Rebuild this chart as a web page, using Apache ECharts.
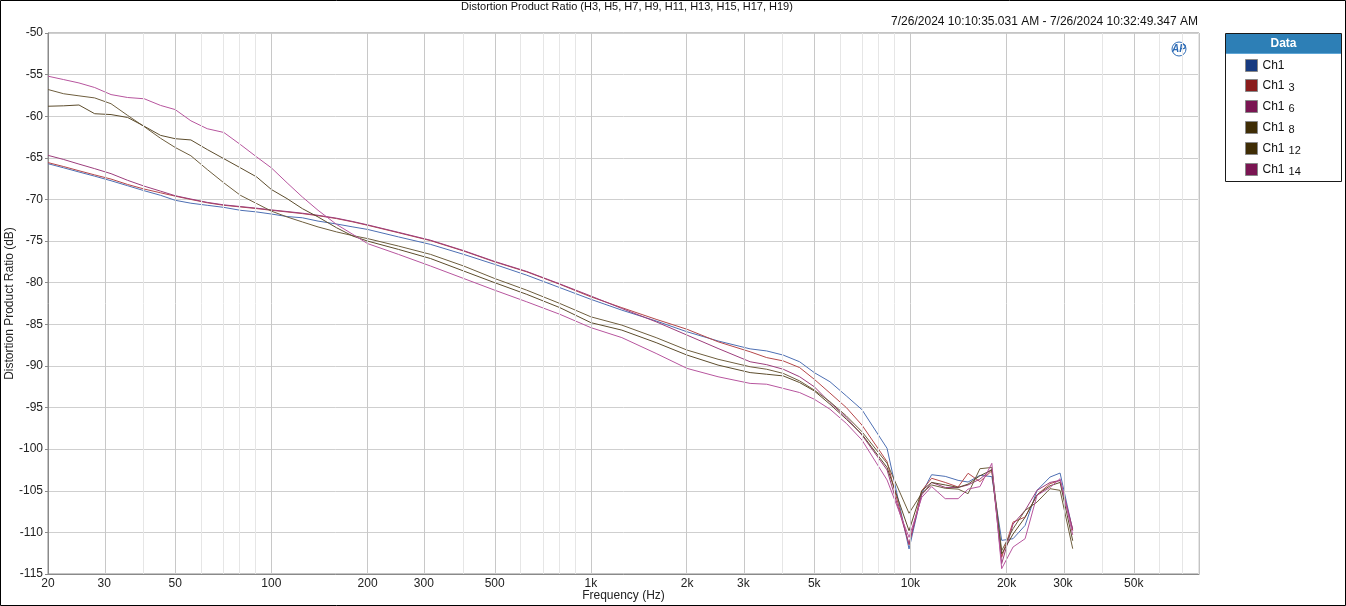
<!DOCTYPE html>
<html><head><meta charset="utf-8">
<script src="https://cdn.jsdelivr.net/npm/echarts@6/dist/echarts.min.js"></script>
<style>html,body{margin:0;padding:0;background:#fff;}#c{width:1346px;height:606px;}</style>
</head><body><div id="c"></div>
<script>
// ---- data ----
const freqHz = [20, 22.4, 25, 28, 31.5, 35.5, 40, 45, 50, 56, 63, 71, 80, 90, 100, 112, 125, 140, 160, 180,
  200, 250, 315, 400, 500, 630, 800, 1000, 1250, 1600, 2000, 2500, 3150, 3550, 4000, 4500, 5000, 5600, 6300,
  7050, 8450, 9900, 10850, 11650, 12850, 14100, 15150, 16500, 17980, 19300, 20950, 22850, 24900, 27350, 29400, 32200];

const ch1 = [-65.7, -66.2, -66.7, -67.2, -67.75, -68.35, -68.95, -69.5, -70.1, -70.45, -70.7, -70.95, -71.3, -71.5, -71.75, -72.05, -72.2, -72.6, -72.95, -73.3,
  -73.6, -74.5, -75.4, -76.6, -77.8, -79.1, -80.6, -82.0, -83.3, -84.6, -85.9, -87.0, -87.95, -88.2, -88.7, -89.5, -90.8, -91.9, -93.6,
  -95.25, -99.9, -112.0, -105.3, -103.07, -103.27, -103.75, -103.95, -103.15, -103.3, -110.96, -110.76, -109.16, -104.95, -103.35, -102.87, -109.76];

const ch1_3 = [-65.57, -66.05, -66.55, -67.05, -67.55, -68.2, -68.75, -69.2, -69.6, -70.0, -70.4, -70.7, -70.9, -71.1, -71.3, -71.5, -71.7, -71.95, -72.3, -72.7,
  -73.1, -74.0, -74.95, -76.2, -77.5, -78.7, -80.2, -81.7, -83.0, -84.4, -85.6, -87.1, -88.3, -89.0, -89.4, -90.2, -91.6, -93.26, -95.0,
  -97.1, -101.5, -111.5, -105.0, -103.5, -104.0, -104.55, -102.9, -103.9, -102.6, -113.0, -108.76, -108.16, -105.5, -104.15, -103.75, -109.76];

const ch1_6 = [-64.7, -65.2, -65.75, -66.3, -66.9, -67.7, -68.4, -69.0, -69.55, -69.95, -70.35, -70.65, -70.85, -71.05, -71.25, -71.45, -71.65, -71.9, -72.25, -72.65,
  -73.05, -73.95, -74.9, -76.15, -77.45, -78.65, -80.15, -81.6, -83.1, -84.7, -86.3, -87.9, -89.5, -89.85, -90.4, -91.3, -92.5, -94.4, -96.2,
  -98.3, -102.5, -111.4, -105.5, -104.0, -104.6, -104.6, -104.3, -103.6, -102.4, -113.76, -109.0, -107.36, -104.95, -104.0, -103.75, -109.6];

const ch1_8 = [-56.79, -57.3, -57.55, -57.8, -58.5, -59.9, -61.25, -62.65, -63.75, -64.75, -66.4, -68.0, -69.5, -70.5, -71.4, -72.1, -72.7, -73.3, -73.9, -74.35,
  -74.7, -75.6, -76.6, -78.0, -79.5, -80.9, -82.5, -84.1, -85.1, -86.6, -88.1, -89.2, -90.1, -90.4, -90.9, -91.8, -92.9, -94.3, -96.0,
  -97.9, -101.7, -107.7, -105.3, -104.3, -104.7, -104.8, -105.35, -102.35, -102.2, -112.2, -109.56, -107.36, -106.36, -104.75, -104.95, -111.96];

const ch1_12 = [-58.8, -58.75, -58.65, -59.7, -59.8, -60.15, -61.2, -62.3, -62.7, -62.85, -64.0, -65.1, -66.2, -67.3, -68.8, -69.9, -71.1, -72.1, -73.4, -74.4,
  -75.0, -76.0, -77.1, -78.6, -80.0, -81.4, -83.0, -84.8, -85.7, -87.2, -88.7, -89.9, -90.8, -91.0, -91.2, -92.0, -93.0, -94.6, -96.4,
  -98.2, -102.2, -109.8, -105.0, -104.0, -104.3, -104.6, -104.2, -103.2, -102.5, -112.6, -110.2, -108.2, -105.5, -104.4, -104.0, -111.0];

const ch1_14 = [-55.19, -55.6, -56.0, -56.55, -57.4, -57.75, -57.9, -58.7, -59.2, -60.55, -61.5, -61.95, -63.4, -64.9, -66.2, -68.0, -69.7, -71.3, -73.0, -74.2,
  -75.3, -76.6, -78.0, -79.5, -80.9, -82.3, -83.8, -85.4, -86.6, -88.5, -90.3, -91.3, -92.1, -92.2, -92.7, -93.2, -94.0, -95.2, -96.9,
  -98.9, -103.7, -110.6, -105.8, -104.5, -105.95, -105.95, -104.8, -104.5, -101.7, -114.36, -111.76, -110.76, -105.55, -104.6, -103.55, -110.3];

const seriesNames = ['Ch1', 'Ch1 3', 'Ch1 6', 'Ch1 8', 'Ch1 12', 'Ch1 14'];
const xTickValues = [20, 30, 50, 100, 200, 300, 500, 1000, 2000, 3000, 5000, 10000, 20000, 30000, 50000];
const xTickLabels = ['20', '30', '50', '100', '200', '300', '500', '1k', '2k', '3k', '5k', '10k', '20k', '30k', '50k'];
const titleText = 'Distortion Product Ratio (H3, H5, H7, H9, H11, H13, H15, H17, H19)';
const dateText = '7/26/2024 10:10:35.031 AM - 7/26/2024 10:32:49.347 AM';

// ---- chart ----
const values = [ch1, ch1_3, ch1_6, ch1_8, ch1_12, ch1_14];
const lineColors = ['#4d6fb3', '#b5474a', '#9c3d7c', '#6e5e3e', '#5c4c2c', '#b7559e'];
const legendColors = ['#173a80', '#8a1c1c', '#7a1552', '#3f2d05', '#3f2d05', '#7a1552'];
const xMin = Math.log10(20), xMax = Math.log10(80000);

const majorGrid = xTickValues.map(v => Math.log10(v));
const minorGrid = [];
for (let d = 10; d <= 10000; d *= 10) {
  for (let m = 1; m <= 9; m++) {
    const f = m * d;
    if (f < 20 || f > 80000) continue;
    if (xTickValues.indexOf(f) >= 0) continue;
    minorGrid.push(Math.log10(f));
  }
}

const labelMap = {};
xTickValues.forEach((v, i) => { labelMap[Math.log10(v).toFixed(4)] = xTickLabels[i]; });

const series = seriesNames.map((n, i) => ({
  name: n, type: 'line', symbol: 'none', showSymbol: false, animation: false, z: 3,
  data: freqHz.map((f, j) => [Math.log10(f), values[i][j]]),
  lineStyle: { width: 1, color: lineColors[i] },
  itemStyle: { color: legendColors[i] }
}));
series.unshift({
  name: '_grid', type: 'line', data: [], z: 1, silent: true, animation: false,
  markLine: {
    silent: true, symbol: 'none', animation: false, label: { show: false },
    data: minorGrid.map(v => ({ xAxis: v, lineStyle: { color: '#e6e6e6', width: 1, type: 'solid' } }))
      .concat(majorGrid.slice(1).map(v => ({ xAxis: v, lineStyle: { color: '#c8c8c8', width: 1, type: 'solid' } })))
  }
});

const chart = echarts.init(document.getElementById('c'), null, { renderer: 'canvas' });
const font = 'Liberation Sans, Arial, sans-serif';
chart.setOption({
  animation: false,
  textStyle: { fontFamily: font },
  grid: { left: 48, right: 147, top: 33, bottom: 32, containLabel: false, outerBoundsMode: 'none',
    show: true, borderColor: '#8a8a8a', borderWidth: 1, backgroundColor: 'transparent' },
  xAxis: {
    type: 'value', min: xMin, max: xMax,
    name: 'Frequency (Hz)', nameLocation: 'middle', nameGap: 16, nameMoveOverlap: false,
    nameTextStyle: { fontSize: 12, color: '#222', fontFamily: font },
    axisLine: { show: true, lineStyle: { color: '#8a8a8a' } },
    axisTick: { show: false },
    splitLine: { show: false },
    axisLabel: {
      customValues: majorGrid, fontSize: 12, color: '#222', margin: 4, fontFamily: font,
      formatter: v => labelMap[(+v).toFixed(4)] || ''
    }
  },
  yAxis: {
    type: 'value', min: -115, max: -50, interval: 5,
    name: 'Distortion Product Ratio (dB)', nameLocation: 'middle', nameGap: 32, nameMoveOverlap: false,
    nameTextStyle: { fontSize: 12, color: '#222', fontFamily: font },
    axisLine: { show: true, lineStyle: { color: '#8a8a8a' } },
    axisTick: { show: true, length: 3, lineStyle: { color: '#8a8a8a' } },
    splitLine: { show: true, lineStyle: { color: '#cfcfcf', width: 1 } },
    axisLabel: { fontSize: 12, color: '#222', margin: 5, fontFamily: font }
  },
  legend: {
    data: seriesNames, orient: 'vertical', left: 1245, top: 59, padding: 0,
    itemWidth: 12, itemHeight: 12, itemGap: 6, icon: 'rect', itemStyle: { borderColor: '#888', borderWidth: 1 },
    selectedMode: false,
    textStyle: {
      fontSize: 12, color: '#111', fontFamily: font,
      rich: { a: { fontSize: 12, color: '#111', lineHeight: 12 }, b: { fontSize: 11, color: '#111', lineHeight: 12, padding: [4, 0, 0, 4] } }
    },
    formatter: n => { const p = n.split(' '); return p.length > 1 ? '{a|' + p[0] + '}{b|' + p[1] + '}' : '{a|' + n + '}'; }
  },
  graphic: [
    { type: 'rect', shape: { x: 0.5, y: 0.5, width: 1345, height: 605 }, style: { fill: 'none', stroke: '#000', lineWidth: 1 }, silent: true },
    { type: 'text', x: 627, y: 7, style: { text: titleText, fontSize: 11, fill: '#111', align: 'center', verticalAlign: 'middle', fontFamily: font } },
    { type: 'text', x: 1198, y: 22, style: { text: dateText, fontSize: 12, fill: '#111', align: 'right', verticalAlign: 'middle', fontFamily: font } },
    { type: 'rect', shape: { x: 1225.5, y: 33.5, width: 116, height: 148 }, style: { fill: '#fff', stroke: '#1a1a1a', lineWidth: 1 }, z: -1 },
    { type: 'rect', shape: { x: 1226, y: 34, width: 115, height: 20 }, style: { fill: '#2d7fb6' } },
    { type: 'rect', shape: { x: 1226, y: 53, width: 115, height: 1 }, style: { fill: '#5fa6d6' } },
    { type: 'text', x: 1283.5, y: 44, style: { text: 'Data', fontSize: 12, fontWeight: 'bold', fill: '#fff', align: 'center', verticalAlign: 'middle', fontFamily: font } },
    { type: 'circle', shape: { cx: 1179, cy: 49, r: 7 }, style: { fill: 'none', stroke: '#2d6bb5', lineWidth: 1 } },
    { type: 'text', x: 1179, y: 49, style: { text: 'AP', fontSize: 10, fontStyle: 'italic', fontWeight: 'bold', fill: '#2d6bb5', align: 'center', verticalAlign: 'middle', fontFamily: font } }
  ],
  series: series
});
</script></body></html>
